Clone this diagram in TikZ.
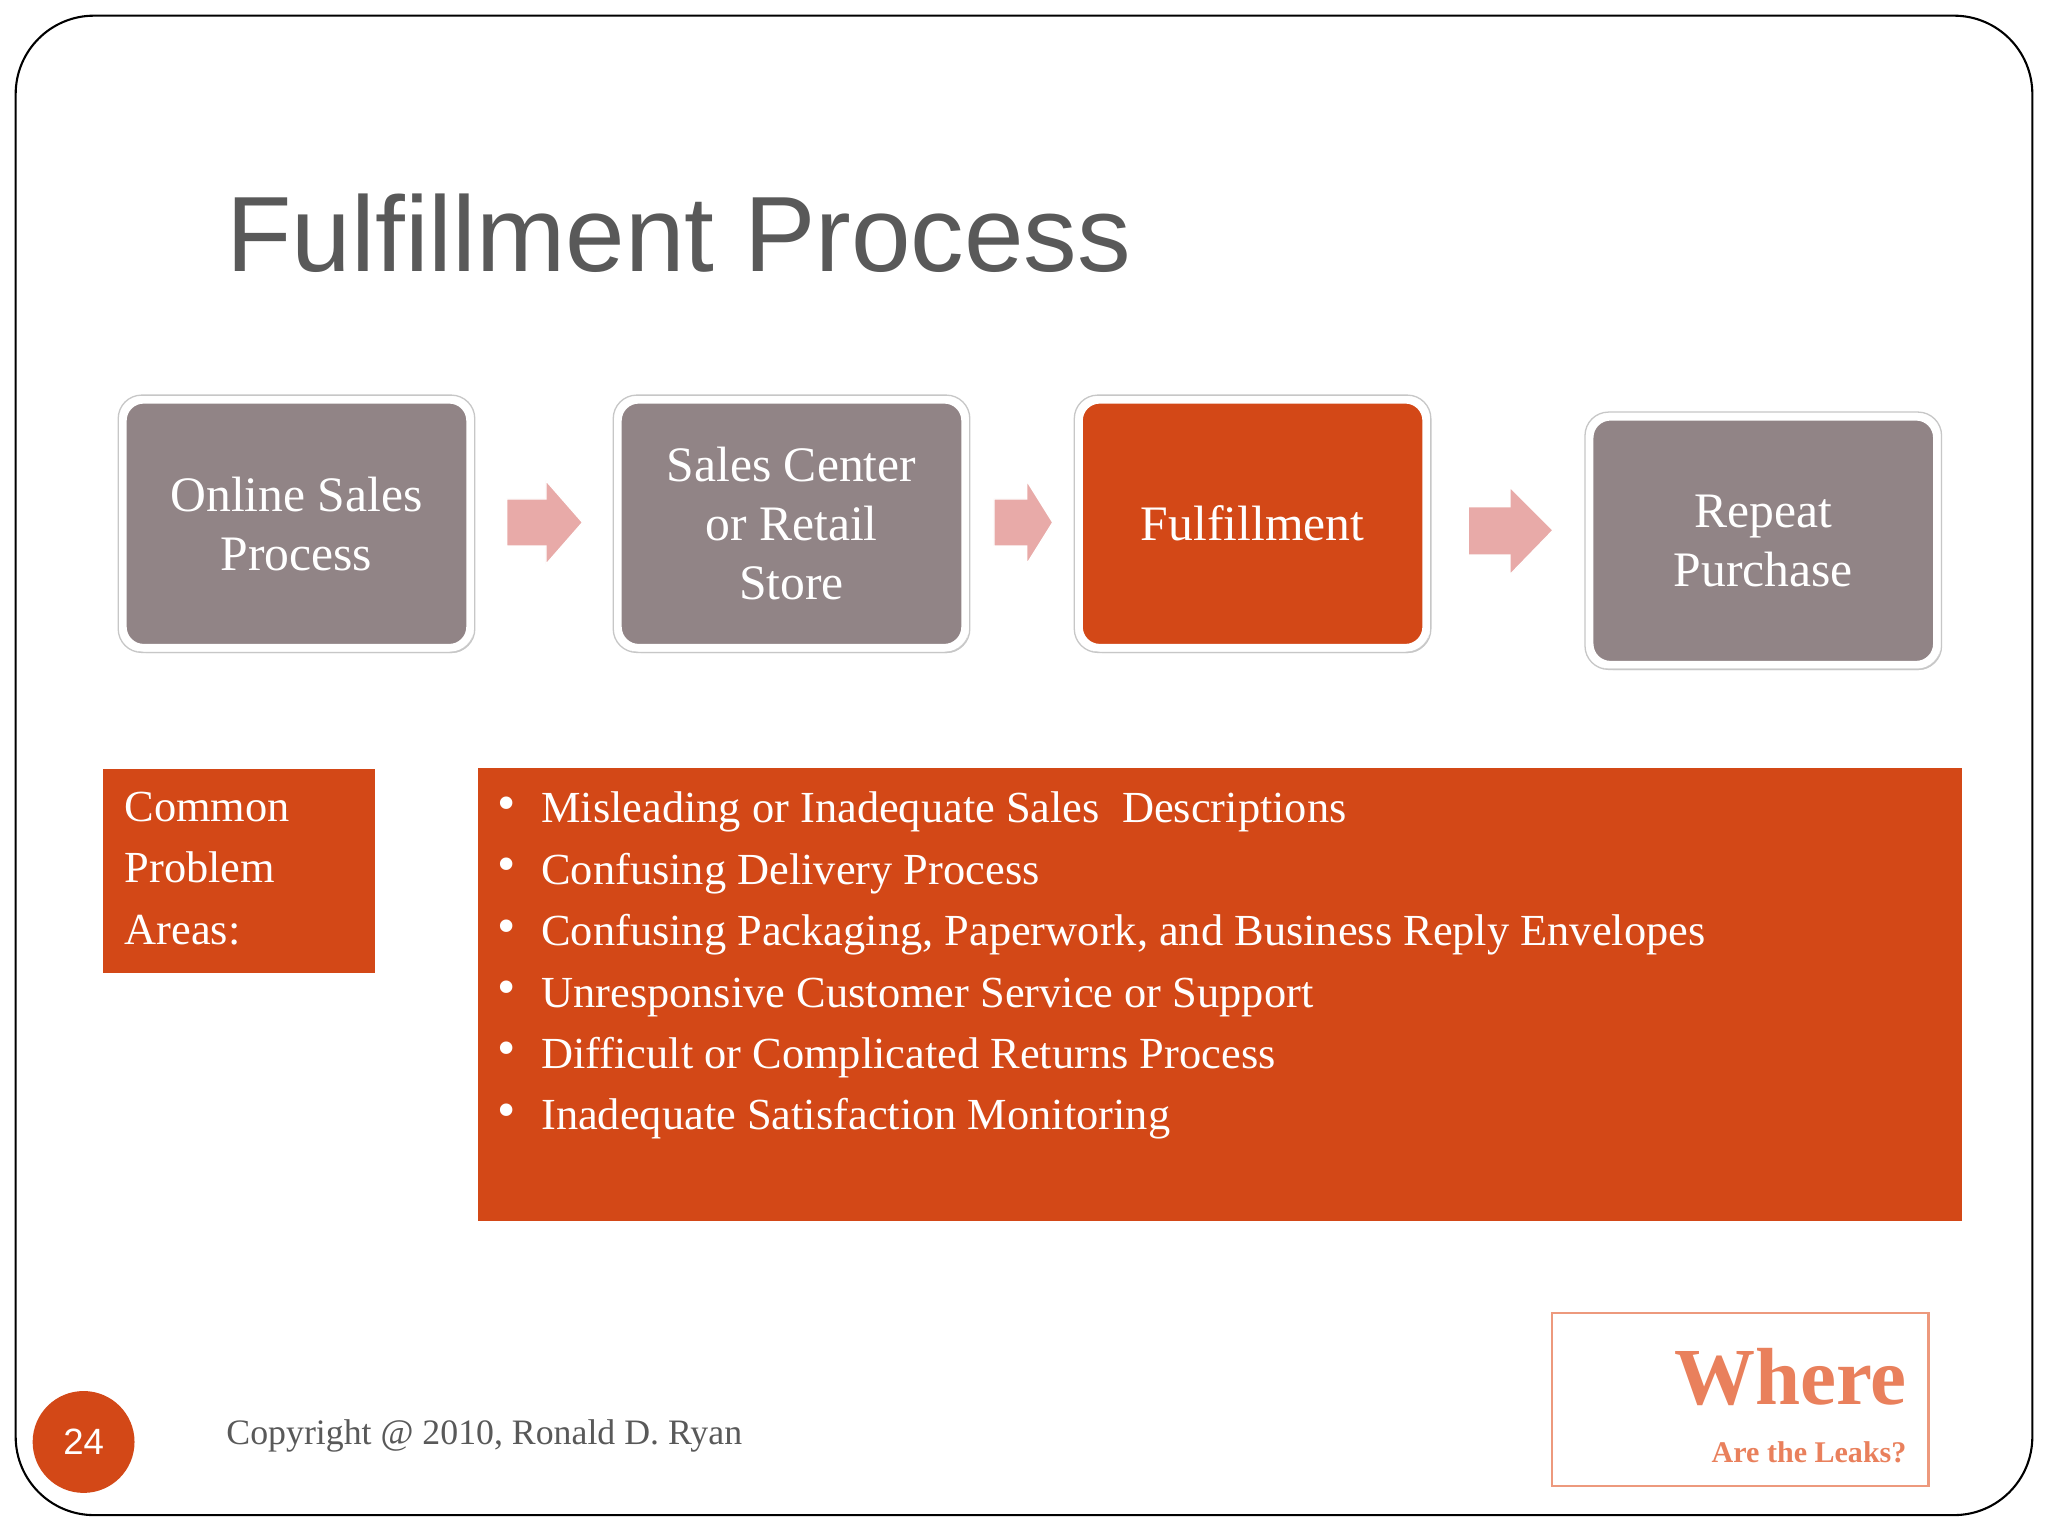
\documentclass[tikz,border=0pt]{standalone}
\usepackage{fontspec}
\setmainfont{Liberation Serif}
\newfontfamily\sans{Liberation Sans}
\usetikzlibrary{shadows}
\definecolor{gbox}{HTML}{918486}
\definecolor{obox}{HTML}{D34817}
\definecolor{parrow}{HTML}{E8AAA8}
\definecolor{ttl}{HTML}{595959}
\definecolor{wh}{HTML}{E9805C}
\begin{document}
\begin{tikzpicture}[x=0.5pt,y=-0.5pt,
 procbox/.style={draw=white,line width=3pt,rounded corners=8pt,text=white,font=\fontsize{19}{22.5}\selectfont,align=center,
   drop shadow={shadow xshift=1pt,shadow yshift=-2pt,opacity=0.35}},
 outl/.style={draw=black!22,line width=0.5pt,rounded corners=9pt},
 parr/.style={fill=parrow,draw=white,line width=0.5pt},
 probtxt/.style={font=\fontsize{17}{23.5}\selectfont,text=white}]
\useasboundingbox (0,0) rectangle (1568,1176);
\fill[white] (0,0) rectangle (1568,1176);
\draw[line width=0.8pt,rounded corners=30pt] (12,12) rectangle (1556,1160);
\node[anchor=base west,font=\sans\fontsize{41}{48}\selectfont,text=ttl,inner sep=0] (title) at (173,208) {Fulfillment Process};
\node[procbox,fill=gbox,minimum width=133pt,minimum height=95pt] (s1) at (227,401) {Online Sales\\Process};
\node[procbox,fill=gbox,minimum width=133pt,minimum height=95pt] (s2) at (606,401) {Sales Center\\or Retail\\Store};
\node[procbox,fill=obox,minimum width=133pt,minimum height=95pt] (s3) at (959,401) {Fulfillment};
\node[procbox,fill=gbox,minimum width=133pt,minimum height=95pt] (s4) at (1350,414) {Repeat\\Purchase};
\foreach \n in {s1,s2,s3,s4}{\draw[outl] ([shift={(-0.5,-0.5)}]\n.north west) rectangle ([shift={(0.5,0.5)}]\n.south east);}
\draw[parr] (388,382) -- (418,382) -- (418,368) -- (446,400) -- (418,432) -- (418,418) -- (388,418) -- cycle;
\draw[parr] (761,382) -- (786,382) -- (786,368) -- (806,400) -- (786,432) -- (786,418) -- (761,418) -- cycle;
\draw[parr] (1124,388) -- (1156,388) -- (1156,373) -- (1189,406) -- (1156,440) -- (1156,425) -- (1124,425) -- cycle;
\node[fill=obox,minimum width=104pt,minimum height=78pt,inner sep=0] (cp) at (183,667) {};
\node[probtxt,anchor=north west,align=left,inner sep=0] (cpt) at (95,606) {Common\\Problem\\Areas:};
\node[fill=obox,minimum width=568pt,minimum height=173.5pt,inner sep=0] (pb) at (934,761.5) {};
\foreach \t [count=\i] in {Misleading or Inadequate Sales\ \ Descriptions,Confusing Delivery Process,{Confusing Packaging, Paperwork, and Business Reply Envelopes},Unresponsive Customer Service or Support,Difficult or Complicated Returns Process,Inadequate Satisfaction Monitoring}{
 \node[probtxt,anchor=base west,inner sep=0] (b\i) at (414,{630+47*(\i-1)}) {\t};
 \node[text=white,anchor=base,inner sep=0,font=\fontsize{20}{20}\selectfont] (d\i) at (388,{628+47*(\i-1)}) {\textbullet};
}
\node[circle,fill=obox,minimum size=39pt,inner sep=0,text=white,font=\sans\fontsize{14}{14}\selectfont] (pg) at (64,1104) {24};
\node[anchor=base west,inner sep=0,text=ttl,font=\fontsize{13.7}{16}\selectfont] (cr) at (173,1106) {Copyright @ 2010, Ronald D. Ryan};
\node[draw=wh!80,line width=0.8pt,minimum width=144pt,minimum height=66pt,inner sep=0] (wb) at (1332.5,1071.5) {};
\node[anchor=base east,inner sep=0,text=wh,font=\bfseries\fontsize{31}{34}\selectfont] (w1) at (1460,1075) {Where};
\node[anchor=base east,inner sep=0,text=wh,font=\bfseries\fontsize{11.5}{14}\selectfont] (w2) at (1460,1120) {Are the Leaks?};
\end{tikzpicture}
\end{document}
